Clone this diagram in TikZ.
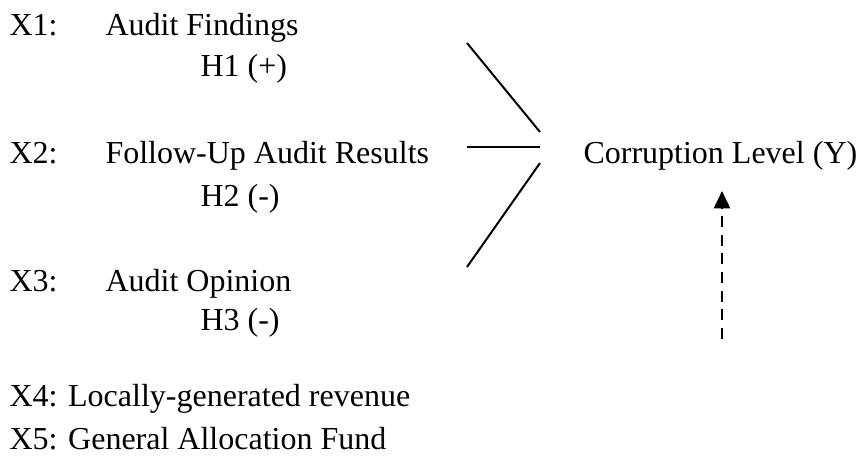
\documentclass[tikz,border=0pt]{standalone}
\usepackage{fontspec}
\setmainfont{Liberation Serif}
\usetikzlibrary{arrows.meta}

\begin{document}
\begin{tikzpicture}[x=0.375pt, y=-0.375pt, >={Triangle[length=6.5pt, width=6pt]},
        txt/.style={anchor=base west, inner sep=0pt, font=\fontsize{12}{14.4}\selectfont},
        link/.style={line width=0.75pt}]
        \useasboundingbox (0,0) rectangle (858,461);
        % independent variables and hypotheses
        \node[txt] (xone) at (9,35) {X1:};
        \node[txt] (findings) at (105,35) {Audit Findings};
        \node[txt] (hone) at (200,76) {H1 (+)};
        \node[txt] (xtwo) at (9,163) {X2:};
        \node[txt] (followup) at (105,163) {Follow-Up Audit Results};
        \node[txt] (htwo) at (200,206) {H2 (-)};
        \node[txt] (xthree) at (9,291) {X3:};
        \node[txt] (opinion) at (105,291) {Audit Opinion};
        \node[txt] (hthree) at (200,330) {H3 (-)};
        % dependent variable
        \node[txt] (corruption) at (583,163) {Corruption Level (Y)};
        % control variables
        \node[txt] (xfour) at (9,406) {X4: Locally-generated revenue};
        \node[txt] (xfive) at (9,449) {X5: General Allocation Fund};
        % line ends
        \coordinate (aone) at (467,43);
        \coordinate (bone) at (540,132);
        \coordinate (atwo) at (467,147);
        \coordinate (btwo) at (540,147);
        \coordinate (athree) at (467,267);
        \coordinate (bthree) at (540,163);
        \coordinate (ctrl) at (722,339);
        \coordinate (ytip) at (722,191);
        \draw[link] (aone) -- (bone);
        \draw[link] (atwo) -- (btwo);
        \draw[link] (athree) -- (bthree);
        \draw[->, line width=1pt, dash pattern=on 4.1pt off 2.9pt] (ctrl) -- (ytip);
\end{tikzpicture}
\end{document}
